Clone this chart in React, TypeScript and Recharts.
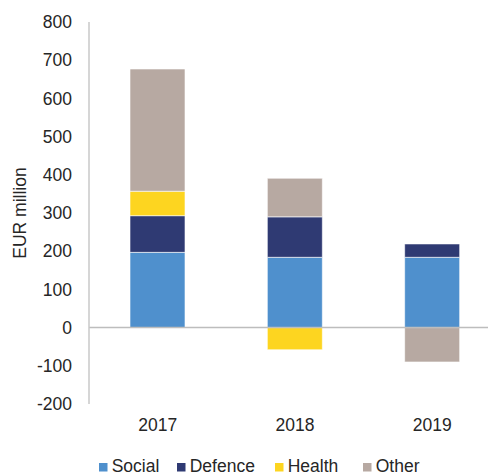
import React from 'react';
import { BarChart, Bar, XAxis, YAxis, ReferenceLine } from 'recharts';

const years = ['2017', '2018', '2019'];
const social = [197, 184, 184];
const defence = [96, 106, 35];
const health = [64, -58, 0];
const other = [320, 101, -90];
const yTicks = [-200, -100, 0, 100, 200, 300, 400, 500, 600, 700, 800];
const seriesNames = ['Social', 'Defence', 'Health', 'Other'];
const seriesKeys = ['social', 'defence', 'health', 'other'];
const colors = ['#4F90CD', '#2F3A73', '#FDD520', '#B7A9A2'];

const data = years.map((y, i) => ({
  year: y,
  social: social[i],
  defence: defence[i],
  health: health[i],
  other: other[i],
}));

const FONT = '"Liberation Sans", Arial, sans-serif';
const TXT = '#262626';
const legendX = [99, 177, 275, 363];

const YLabel = (props: any) => {
  const vb = props.viewBox || {};
  const cy = vb.y + vb.height / 2;
  return (
    <text
      x={20}
      y={cy}
      transform={`rotate(-90, 20, ${cy})`}
      textAnchor="middle"
      dominantBaseline="central"
      fill={TXT}
      fontSize={17.5}
      fontFamily={FONT}
    >
      EUR million
    </text>
  );
};

export default function App() {
  return (
    <div style={{ position: 'absolute', left: 0, top: 0, width: 488, height: 476, overflow: 'hidden', background: '#fff' }}>
      <BarChart
        width={510}
        height={476}
        data={data}
        stackOffset="sign"
        barCategoryGap="20%"
        margin={{ top: 22, right: 9, left: 0, bottom: 42 }}
      >
        <XAxis
          dataKey="year"
          height={30}
          axisLine={false}
          tickLine={false}
          tickSize={0}
          tickMargin={15}
          tick={{ fill: TXT, fontSize: 17.5, fontFamily: FONT }}
        />
        <YAxis
          width={89}
          domain={[-200, 800]}
          ticks={yTicks}
          interval={0}
          axisLine={{ stroke: '#C8C8C8', strokeWidth: 1.5 }}
          tickLine={false}
          tickSize={0}
          tickMargin={17}
          tick={{ fill: TXT, fontSize: 17.5, fontFamily: FONT }}
          label={<YLabel />}
        />
        {seriesKeys.map((k, i) => (
          <Bar
            key={k}
            dataKey={k}
            name={seriesNames[i]}
            stackId="a"
            fill={colors[i]}
            stroke="#ffffff"
            strokeWidth={0.6}
            barSize={55}
            isAnimationActive={false}
          />
        ))}
        <ReferenceLine y={0} stroke="#BDBDBD" strokeWidth={1.5} />
      </BarChart>
      <svg width={488} height={476} style={{ position: 'absolute', left: 0, top: 0, pointerEvents: 'none' }}>
        {seriesNames.map((n, i) => (
          <g key={n}>
            <rect x={legendX[i]} y={463} width={8.5} height={8.5} fill={colors[i]} />
            <text x={legendX[i] + 12.7} y={472} fill={TXT} fontSize={17.5} fontFamily={FONT}>
              {n}
            </text>
          </g>
        ))}
      </svg>
    </div>
  );
}
